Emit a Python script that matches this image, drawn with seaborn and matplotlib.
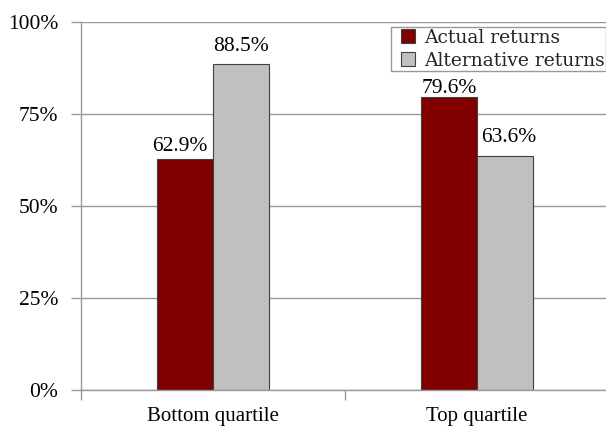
import matplotlib
matplotlib.use("Agg")
import matplotlib.pyplot as plt
import seaborn as sns
import pandas as pd
from matplotlib.ticker import FixedLocator
from matplotlib.lines import Line2D

categories = ["Bottom quartile", "Top quartile"]
series_names = ["Actual returns", "Alternative returns"]
actual = [62.9, 79.6]
alternative = [88.5, 63.6]
yticks = [0, 25, 50, 75, 100]
ytick_labels = ["0%", "25%", "50%", "75%", "100%"]
colors = ["#800000", "#C0C0C0"]

# label offsets (pixels) per series, per category: (dx, dy above bar top to text baseline)
label_offsets = [[(-5, 8), (0, 4)], [(0, 13), (4, 14)]]

sns.set_theme(style="white")
plt.rcParams['font.family'] = ['Liberation Serif', 'DejaVu Serif']
WIDE = ['DejaVu Serif']

df = pd.DataFrame({
    "category": categories * 2,
    "series": [series_names[0]] * 2 + [series_names[1]] * 2,
    "value": actual + alternative,
})

fig = plt.figure(figsize=(6.06, 4.26), dpi=100)
ax = fig.add_axes([81/606, 1-390/426, 528/606, 368/426])

sns.barplot(data=df, x="category", y="value", hue="series", order=categories,
            hue_order=series_names, palette=colors, width=0.424,
            edgecolor="#404040", linewidth=0.8, saturation=1, ax=ax, legend=False)

for si, cont in enumerate(ax.containers):
    for ci, (bar, v) in enumerate(zip(cont.patches, cont.datavalues)):
        dx, dy = label_offsets[si][ci]
        ax.annotate(f"{v:.1f}%", xy=(bar.get_x() + bar.get_width() / 2, bar.get_height()),
                    xytext=(dx, dy), textcoords="offset pixels", ha="center", va="baseline",
                    fontsize=15.5, color="black")

ax.set_xlim(-0.5, 1.5)
ax.set_ylim(0, 100)
ax.set_yticks(yticks)
ax.set_yticklabels(ytick_labels, fontsize=15.5, color="black")
ax.set_xticks(range(len(categories)))
ax.set_xticklabels(categories, fontsize=15, color="black")
ax.xaxis.set_minor_locator(FixedLocator([-0.5, 0.5, 1.5]))
ax.tick_params(axis="x", which="major", length=0, pad=12)
ax.tick_params(axis="x", which="minor", length=7, color="#999999", width=1, direction="out", bottom=True)
ax.tick_params(axis="y", length=7, color="#999999", width=1, direction="out", left=True, pad=9.4)
ax.set_xlabel("")
ax.set_ylabel("")
ax.grid(axis="y", color="#999999", linewidth=1)
ax.set_axisbelow(True)
for s in ["top", "right"]:
    ax.spines[s].set_visible(False)
for s in ["left", "bottom"]:
    ax.spines[s].set_color("#999999")
    ax.spines[s].set_linewidth(1)

handles = [Line2D([], [], linestyle="none", marker="s", markersize=9.4,
                  markerfacecolor=c, markeredgecolor="#404040", markeredgewidth=0.8)
           for c in colors]
leg = ax.legend(handles, series_names, loc="upper left", bbox_to_anchor=(391/606, 1-27/426),
                bbox_transform=fig.transFigure, frameon=True, fancybox=False,
                prop={'family': WIDE, 'size': 13.5},
                edgecolor="#999999", framealpha=1, handlelength=1.65,
                handletextpad=0.0, borderpad=0.1, labelspacing=0.25, borderaxespad=0)
leg.get_frame().set_linewidth(1)

fig.savefig("out.png", dpi=100)
